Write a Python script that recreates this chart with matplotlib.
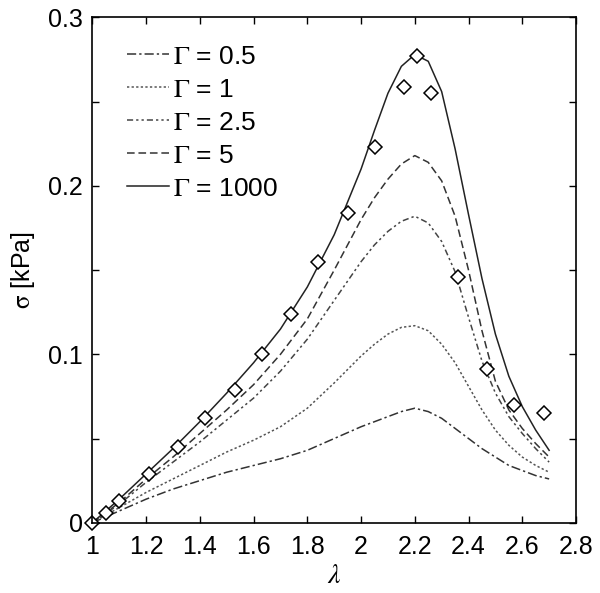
import matplotlib
matplotlib.use("Agg")
import matplotlib.pyplot as plt

plt.rcParams['font.family'] = ['Liberation Sans', 'DejaVu Sans']
plt.rcParams['mathtext.fontset'] = 'stix'

# model curves
lam = [1.0, 1.1, 1.2, 1.3, 1.4, 1.5, 1.6, 1.7, 1.8, 1.9, 2.0, 2.05, 2.1, 2.15, 2.2, 2.25,
       2.3, 2.35, 2.4, 2.45, 2.5, 2.55, 2.6, 2.65, 2.7]
g1000 = [0.0, 0.014, 0.029, 0.044, 0.060, 0.077, 0.095, 0.115, 0.140, 0.171, 0.210, 0.233,
         0.255, 0.271, 0.278, 0.274, 0.256, 0.222, 0.183, 0.145, 0.112, 0.087, 0.069, 0.055, 0.043]
g5 = [0.0, 0.012, 0.026, 0.039, 0.053, 0.067, 0.082, 0.100, 0.121, 0.150, 0.180, 0.193,
      0.204, 0.213, 0.218, 0.214, 0.203, 0.182, 0.150, 0.114, 0.084, 0.067, 0.056, 0.047, 0.039]
g25 = [0.0, 0.011, 0.024, 0.036, 0.048, 0.061, 0.074, 0.090, 0.109, 0.132, 0.155, 0.165,
       0.173, 0.179, 0.182, 0.178, 0.167, 0.149, 0.122, 0.096, 0.077, 0.063, 0.053, 0.044, 0.036]
g1 = [0.0, 0.009, 0.018, 0.026, 0.034, 0.042, 0.049, 0.057, 0.068, 0.083, 0.099, 0.106,
      0.112, 0.116, 0.117, 0.114, 0.106, 0.095, 0.081, 0.067, 0.055, 0.046, 0.039, 0.034, 0.030]
g05 = [0.0, 0.007, 0.014, 0.020, 0.025, 0.030, 0.034, 0.038, 0.043, 0.050, 0.057, 0.060,
       0.063, 0.066, 0.068, 0.066, 0.062, 0.056, 0.050, 0.044, 0.039, 0.034, 0.031, 0.028, 0.026]

# experimental data (diamonds)
exp_lam = [1.0, 1.05, 1.10, 1.21, 1.32, 1.42, 1.53, 1.63, 1.74, 1.84, 1.95, 2.05, 2.16,
           2.21, 2.26, 2.36, 2.47, 2.57, 2.68]
exp_sig = [0.0, 0.006, 0.013, 0.029, 0.045, 0.062, 0.079, 0.100, 0.124, 0.155, 0.184,
           0.223, 0.259, 0.277, 0.255, 0.146, 0.091, 0.070, 0.065]

labels = [r'$\Gamma$ = 0.5', r'$\Gamma$ = 1', r'$\Gamma$ = 2.5', r'$\Gamma$ = 5', r'$\Gamma$ = 1000']
xticks = [1, 1.2, 1.4, 1.6, 1.8, 2, 2.2, 2.4, 2.6, 2.8]
xticklabels = ['1', '1.2', '1.4', '1.6', '1.8', '2', '2.2', '2.4', '2.6', '2.8']
yticks = [0, 0.05, 0.1, 0.15, 0.2, 0.25, 0.3]
yticklabels = ['0', '', '0.1', '', '0.2', '', '0.3']

fig = plt.figure(figsize=(6.0, 5.93), dpi=100)
ax = fig.add_axes([0.154, 0.1185, 0.806, 0.852])

ax.plot(lam, g05, color='#333333', lw=1.1, dashes=(6, 2, 1.5, 2), label=labels[0])
ax.plot(lam, g1, color='#555555', lw=1.1, dashes=(1.5, 1.5), label=labels[1])
ax.plot(lam, g25, color='#444444', lw=1.1, dashes=(4, 2, 1.5, 2, 1.5, 2), label=labels[2])
ax.plot(lam, g5, color='#333333', lw=1.1, dashes=(5, 2.5), label=labels[3])
ax.plot(lam, g1000, color='#222222', lw=1.1, label=labels[4])
ax.plot(exp_lam, exp_sig, linestyle='none', marker='D', markersize=7,
        markerfacecolor='white', markeredgecolor='black', markeredgewidth=1.1, clip_on=False)

ax.set_xlim(1, 2.8)
ax.set_ylim(0, 0.3)
ax.set_xticks(xticks)
ax.set_xticklabels(xticklabels)
ax.set_yticks(yticks)
ax.set_yticklabels(yticklabels)
ax.tick_params(direction='in', top=True, right=True, labelsize=18, length=5, width=1)
ax.tick_params(axis='x', pad=9)
ax.tick_params(axis='y', pad=7)
for s in ax.spines.values():
    s.set_linewidth(1.2)

ax.set_xlabel(r'$\lambda$', fontsize=20, labelpad=3)
ax.set_ylabel(r'$\mathrm{\sigma}$ [kPa]', fontsize=18, labelpad=8)

ax.legend(loc='upper left', frameon=False, fontsize=19, handlelength=1.6,
          handletextpad=0.15, labelspacing=0.34, borderaxespad=0,
          bbox_to_anchor=(0.05, 0.967))

fig.savefig('out.png', dpi=100)
